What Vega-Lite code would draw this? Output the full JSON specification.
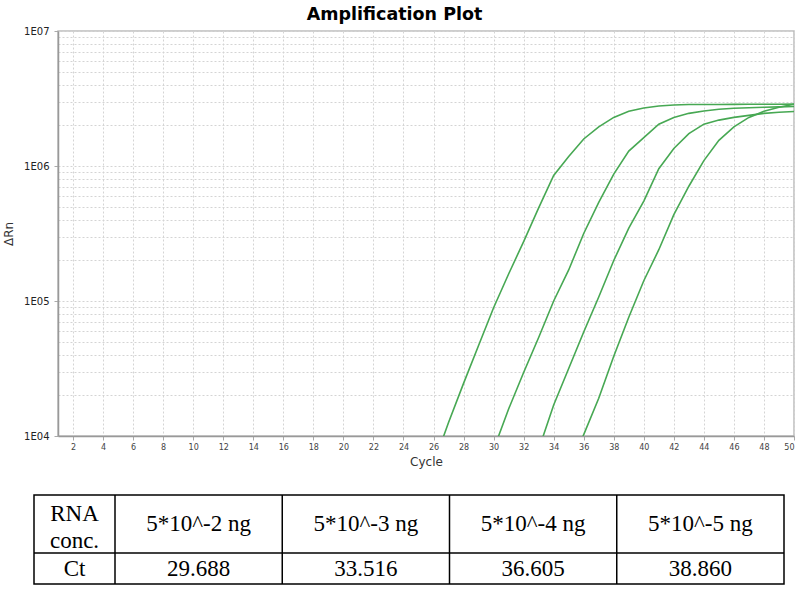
{
  "$schema": "https://vega.github.io/schema/vega-lite/v6.json",
  "background": "white",
  "padding": {"left": 1, "top": 4, "right": 0, "bottom": 0},
  "spacing": 26,
  "datasets": {
    "curves": [
      {"sample": "5*10^-2 ng", "cycle": 26, "drn": 6166},
      {"sample": "5*10^-2 ng", "cycle": 27, "drn": 12589},
      {"sample": "5*10^-2 ng", "cycle": 28, "drn": 24547},
      {"sample": "5*10^-2 ng", "cycle": 29, "drn": 46774},
      {"sample": "5*10^-2 ng", "cycle": 30, "drn": 89125},
      {"sample": "5*10^-2 ng", "cycle": 31, "drn": 158489},
      {"sample": "5*10^-2 ng", "cycle": 32, "drn": 275423},
      {"sample": "5*10^-2 ng", "cycle": 33, "drn": 489779},
      {"sample": "5*10^-2 ng", "cycle": 34, "drn": 851138},
      {"sample": "5*10^-2 ng", "cycle": 35, "drn": 1174898},
      {"sample": "5*10^-2 ng", "cycle": 36, "drn": 1584893},
      {"sample": "5*10^-2 ng", "cycle": 37, "drn": 1949845},
      {"sample": "5*10^-2 ng", "cycle": 38, "drn": 2290868},
      {"sample": "5*10^-2 ng", "cycle": 39, "drn": 2541000},
      {"sample": "5*10^-2 ng", "cycle": 40, "drn": 2691535},
      {"sample": "5*10^-2 ng", "cycle": 41, "drn": 2786121},
      {"sample": "5*10^-2 ng", "cycle": 42, "drn": 2831392},
      {"sample": "5*10^-2 ng", "cycle": 43, "drn": 2851000},
      {"sample": "5*10^-2 ng", "cycle": 44, "drn": 2855000},
      {"sample": "5*10^-2 ng", "cycle": 45, "drn": 2858000},
      {"sample": "5*10^-2 ng", "cycle": 46, "drn": 2861000},
      {"sample": "5*10^-2 ng", "cycle": 47, "drn": 2864000},
      {"sample": "5*10^-2 ng", "cycle": 48, "drn": 2866000},
      {"sample": "5*10^-2 ng", "cycle": 49, "drn": 2868000},
      {"sample": "5*10^-2 ng", "cycle": 50, "drn": 2871000},
      {"sample": "5*10^-3 ng", "cycle": 30, "drn": 7943},
      {"sample": "5*10^-3 ng", "cycle": 31, "drn": 15849},
      {"sample": "5*10^-3 ng", "cycle": 32, "drn": 29512},
      {"sample": "5*10^-3 ng", "cycle": 33, "drn": 53703},
      {"sample": "5*10^-3 ng", "cycle": 34, "drn": 100000},
      {"sample": "5*10^-3 ng", "cycle": 35, "drn": 169824},
      {"sample": "5*10^-3 ng", "cycle": 36, "drn": 316228},
      {"sample": "5*10^-3 ng", "cycle": 37, "drn": 537032},
      {"sample": "5*10^-3 ng", "cycle": 38, "drn": 870964},
      {"sample": "5*10^-3 ng", "cycle": 39, "drn": 1288250},
      {"sample": "5*10^-3 ng", "cycle": 40, "drn": 1621810},
      {"sample": "5*10^-3 ng", "cycle": 41, "drn": 2041738},
      {"sample": "5*10^-3 ng", "cycle": 42, "drn": 2290868},
      {"sample": "5*10^-3 ng", "cycle": 43, "drn": 2454709},
      {"sample": "5*10^-3 ng", "cycle": 44, "drn": 2558586},
      {"sample": "5*10^-3 ng", "cycle": 45, "drn": 2630268},
      {"sample": "5*10^-3 ng", "cycle": 46, "drn": 2679168},
      {"sample": "5*10^-3 ng", "cycle": 47, "drn": 2703958},
      {"sample": "5*10^-3 ng", "cycle": 48, "drn": 2722701},
      {"sample": "5*10^-3 ng", "cycle": 49, "drn": 2741574},
      {"sample": "5*10^-3 ng", "cycle": 50, "drn": 2760578},
      {"sample": "5*10^-4 ng", "cycle": 33, "drn": 7943},
      {"sample": "5*10^-4 ng", "cycle": 34, "drn": 16982},
      {"sample": "5*10^-4 ng", "cycle": 35, "drn": 31623},
      {"sample": "5*10^-4 ng", "cycle": 36, "drn": 58884},
      {"sample": "5*10^-4 ng", "cycle": 37, "drn": 107152},
      {"sample": "5*10^-4 ng", "cycle": 38, "drn": 199526},
      {"sample": "5*10^-4 ng", "cycle": 39, "drn": 346737},
      {"sample": "5*10^-4 ng", "cycle": 40, "drn": 549541},
      {"sample": "5*10^-4 ng", "cycle": 41, "drn": 954993},
      {"sample": "5*10^-4 ng", "cycle": 42, "drn": 1348963},
      {"sample": "5*10^-4 ng", "cycle": 43, "drn": 1737801},
      {"sample": "5*10^-4 ng", "cycle": 44, "drn": 2041738},
      {"sample": "5*10^-4 ng", "cycle": 45, "drn": 2187762},
      {"sample": "5*10^-4 ng", "cycle": 46, "drn": 2290868},
      {"sample": "5*10^-4 ng", "cycle": 47, "drn": 2371374},
      {"sample": "5*10^-4 ng", "cycle": 48, "drn": 2454709},
      {"sample": "5*10^-4 ng", "cycle": 49, "drn": 2500345},
      {"sample": "5*10^-4 ng", "cycle": 50, "drn": 2535129},
      {"sample": "5*10^-5 ng", "cycle": 35, "drn": 5623},
      {"sample": "5*10^-5 ng", "cycle": 36, "drn": 10233},
      {"sample": "5*10^-5 ng", "cycle": 37, "drn": 19055},
      {"sample": "5*10^-5 ng", "cycle": 38, "drn": 38905},
      {"sample": "5*10^-5 ng", "cycle": 39, "drn": 75858},
      {"sample": "5*10^-5 ng", "cycle": 40, "drn": 141254},
      {"sample": "5*10^-5 ng", "cycle": 41, "drn": 239883},
      {"sample": "5*10^-5 ng", "cycle": 42, "drn": 436516},
      {"sample": "5*10^-5 ng", "cycle": 43, "drn": 707946},
      {"sample": "5*10^-5 ng", "cycle": 44, "drn": 1096478},
      {"sample": "5*10^-5 ng", "cycle": 45, "drn": 1548817},
      {"sample": "5*10^-5 ng", "cycle": 46, "drn": 1949845},
      {"sample": "5*10^-5 ng", "cycle": 47, "drn": 2290868},
      {"sample": "5*10^-5 ng", "cycle": 48, "drn": 2541026},
      {"sample": "5*10^-5 ng", "cycle": 49, "drn": 2722701},
      {"sample": "5*10^-5 ng", "cycle": 50, "drn": 2870781}
    ],
    "table": [
      {"row": 0, "col": 0, "text": "RNA\nconc."},
      {"row": 0, "col": 1, "text": "5*10^-2 ng"},
      {"row": 0, "col": 2, "text": "5*10^-3 ng"},
      {"row": 0, "col": 3, "text": "5*10^-4 ng"},
      {"row": 0, "col": 4, "text": "5*10^-5 ng"},
      {"row": 1, "col": 0, "text": "Ct"},
      {"row": 1, "col": 1, "text": "29.688"},
      {"row": 1, "col": 2, "text": "33.516"},
      {"row": 1, "col": 3, "text": "36.605"},
      {"row": 1, "col": 4, "text": "38.860"}
    ]
  },
  "vconcat": [
    {
      "width": 736,
      "height": 405,
      "title": {
        "text": "Amplification Plot",
        "font": "DejaVu Sans",
        "fontSize": 17.5,
        "fontWeight": "bold",
        "color": "#000000",
        "anchor": "middle",
        "frame": "bounds",
        "offset": 3,
        "dx": -4
      },
      "view": {"stroke": "#bdbdbd", "strokeWidth": 1.5},
      "data": {"name": "curves"},
      "mark": {"type": "line", "clip": true, "color": "#47a853", "strokeWidth": 1.6},
      "encoding": {
        "x": {
          "field": "cycle",
          "type": "quantitative",
          "scale": {"domain": [1, 50], "nice": false, "zero": false},
          "axis": {
            "title": "Cycle",
            "values": [2, 4, 6, 8, 10, 12, 14, 16, 18, 20, 22, 24, 26, 28, 30, 32, 34, 36, 38, 40, 42, 44, 46, 48, 50],
            "labelFont": "DejaVu Sans",
            "labelFontSize": 8,
            "labelColor": "#444444",
            "labelPadding": 3,
            "labelOverlap": false,
            "tickSize": 4,
            "tickColor": "#aaaaaa",
            "domainColor": "#999999",
            "domainWidth": 1.5,
            "grid": true,
            "gridColor": "#d4d4d4",
            "gridDash": [2, 2],
            "titleFont": "DejaVu Sans",
            "titleFontSize": 12,
            "titleFontWeight": "normal",
            "titleColor": "#333333",
            "titlePadding": 5
          }
        },
        "y": {
          "field": "drn",
          "type": "quantitative",
          "scale": {"type": "log", "domain": [10000, 10000000], "nice": false},
          "axis": {
            "title": "ΔRn",
            "values": [10000, 20000, 30000, 40000, 50000, 60000, 70000, 80000, 90000, 100000, 200000, 300000, 400000, 500000, 600000, 700000, 800000, 900000, 1000000, 2000000, 3000000, 4000000, 5000000, 6000000, 7000000, 8000000, 9000000, 10000000],
            "labelExpr": "indexof([10000,100000,1000000,10000000], datum.value) >= 0 ? '1E0' + round(log(datum.value)/LN10) : ''",
            "labelFont": "DejaVu Sans",
            "labelFontSize": 10,
            "labelColor": "#222222",
            "labelPadding": 5,
            "labelOverlap": false,
            "tickSize": 4,
            "tickColor": "#aaaaaa",
            "tickOpacity": {"condition": {"test": "indexof([10000,100000,1000000,10000000], datum.value) >= 0", "value": 1}, "value": 0},
            "domainColor": "#999999",
            "domainWidth": 1.5,
            "grid": true,
            "gridColor": "#d4d4d4",
            "gridDash": [2, 2],
            "titleFont": "DejaVu Sans",
            "titleFontSize": 12,
            "titleFontWeight": "normal",
            "titleColor": "#333333",
            "titlePadding": 8
          }
        },
        "detail": {"field": "sample", "type": "nominal"}
      }
    },
    {
      "width": 736,
      "height": 89,
      "view": {"stroke": null},
      "layer": [
        {
          "data": {"values": [{}]},
          "mark": {"type": "rect", "filled": false, "stroke": "#000000", "strokeWidth": 1.5},
          "encoding": {
            "x": {"datum": -0.5, "type": "quantitative", "scale": {"domain": [-0.5, 0.5, 4.5], "range": [-24, 57, 726], "nice": false, "zero": false}, "axis": null},
            "x2": {"datum": 4.5},
            "y": {"datum": -0.5, "type": "quantitative", "scale": {"domain": [-0.5, 0.5, 1.5], "range": [0, 58, 89], "nice": false, "zero": false}, "axis": null},
            "y2": {"datum": 1.5}
          }
        },
        {
          "data": {"values": [{}]},
          "mark": {"type": "rule", "stroke": "#000000", "strokeWidth": 1.5},
          "encoding": {
            "x": {"datum": 0.5, "type": "quantitative", "axis": null},
            "y": {"datum": -0.5, "type": "quantitative", "axis": null},
            "y2": {"datum": 1.5}
          }
        },
        {
          "data": {"values": [{}]},
          "mark": {"type": "rule", "stroke": "#000000", "strokeWidth": 1.5},
          "encoding": {
            "x": {"datum": 1.5, "type": "quantitative", "axis": null},
            "y": {"datum": -0.5, "type": "quantitative", "axis": null},
            "y2": {"datum": 1.5}
          }
        },
        {
          "data": {"values": [{}]},
          "mark": {"type": "rule", "stroke": "#000000", "strokeWidth": 1.5},
          "encoding": {
            "x": {"datum": 2.5, "type": "quantitative", "axis": null},
            "y": {"datum": -0.5, "type": "quantitative", "axis": null},
            "y2": {"datum": 1.5}
          }
        },
        {
          "data": {"values": [{}]},
          "mark": {"type": "rule", "stroke": "#000000", "strokeWidth": 1.5},
          "encoding": {
            "x": {"datum": 3.5, "type": "quantitative", "axis": null},
            "y": {"datum": -0.5, "type": "quantitative", "axis": null},
            "y2": {"datum": 1.5}
          }
        },
        {
          "data": {"values": [{}]},
          "mark": {"type": "rule", "stroke": "#000000", "strokeWidth": 1.5},
          "encoding": {
            "x": {"datum": -0.5, "type": "quantitative", "axis": null},
            "x2": {"datum": 4.5},
            "y": {"datum": 0.5, "type": "quantitative", "axis": null}
          }
        },
        {
          "data": {"name": "table"},
          "transform": [{"filter": "datum.row != 0 || datum.col != 0"}],
          "mark": {"type": "text", "font": "Liberation Serif", "fontSize": 23, "align": "center", "baseline": "middle", "color": "#000000"},
          "encoding": {
            "x": {"field": "col", "type": "quantitative", "axis": null},
            "y": {"field": "row", "type": "quantitative", "axis": null},
            "text": {"field": "text", "type": "nominal"}
          }
        },
        {
          "data": {"name": "table"},
          "transform": [{"filter": "datum.row == 0 && datum.col == 0"}],
          "mark": {"type": "text", "font": "Liberation Serif", "fontSize": 23, "lineBreak": "\n", "lineHeight": 27, "align": "center", "baseline": "middle", "dy": -10, "color": "#000000"},
          "encoding": {
            "x": {"field": "col", "type": "quantitative", "axis": null},
            "y": {"field": "row", "type": "quantitative", "axis": null},
            "text": {"field": "text", "type": "nominal"}
          }
        }
      ]
    }
  ]
}
